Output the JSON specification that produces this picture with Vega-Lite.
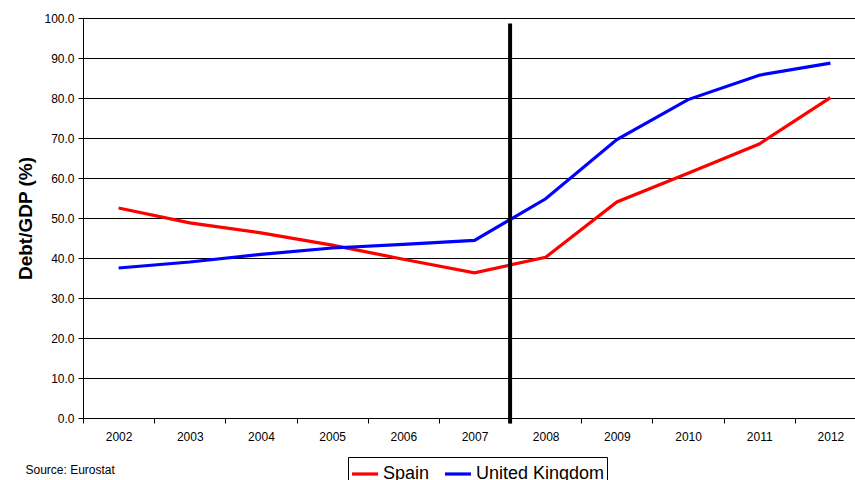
{
  "$schema": "https://vega.github.io/schema/vega-lite/v6.json",
  "width": 772,
  "height": 400,
  "autosize": {"type": "none"},
  "padding": {"left": 83, "top": 18, "right": 0, "bottom": 62},
  "background": "white",
  "config": {
    "view": {"stroke": null},
    "font": "Liberation Sans",
    "axis": {
      "labelColor": "black",
      "labelFont": "Liberation Sans",
      "labelFontSize": 12,
      "labelOverlap": false,
      "domainColor": "black",
      "tickColor": "black",
      "gridColor": "black",
      "gridOpacity": 1,
      "tickSize": 5
    },
    "axisY": {
      "titleFont": "Liberation Sans",
      "titleFontSize": 19,
      "titleFontWeight": "bold",
      "titleColor": "black",
      "titlePadding": 8,
      "labelPadding": 4
    }
  },
  "datasets": {
    "debt": [
      {"year": "2002", "country": "Spain", "debt": 52.5},
      {"year": "2003", "country": "Spain", "debt": 48.8},
      {"year": "2004", "country": "Spain", "debt": 46.3},
      {"year": "2005", "country": "Spain", "debt": 43.2},
      {"year": "2006", "country": "Spain", "debt": 39.7},
      {"year": "2007", "country": "Spain", "debt": 36.3},
      {"year": "2008", "country": "Spain", "debt": 40.2},
      {"year": "2009", "country": "Spain", "debt": 54.0},
      {"year": "2010", "country": "Spain", "debt": 61.2},
      {"year": "2011", "country": "Spain", "debt": 68.5},
      {"year": "2012", "country": "Spain", "debt": 80.1},
      {"year": "2002", "country": "United Kingdom", "debt": 37.5},
      {"year": "2003", "country": "United Kingdom", "debt": 39.0},
      {"year": "2004", "country": "United Kingdom", "debt": 40.9},
      {"year": "2005", "country": "United Kingdom", "debt": 42.5},
      {"year": "2006", "country": "United Kingdom", "debt": 43.4},
      {"year": "2007", "country": "United Kingdom", "debt": 44.4},
      {"year": "2008", "country": "United Kingdom", "debt": 54.8},
      {"year": "2009", "country": "United Kingdom", "debt": 69.6},
      {"year": "2010", "country": "United Kingdom", "debt": 79.6},
      {"year": "2011", "country": "United Kingdom", "debt": 85.7},
      {"year": "2012", "country": "United Kingdom", "debt": 88.7}
    ],
    "marker": [
      {"year": "2008", "top": 98.6, "bottom": -1.4}
    ]
  },
  "layer": [
    {
      "data": {"name": "debt"},
      "mark": {"type": "line", "strokeWidth": 3.2},
      "encoding": {
        "x": {
          "field": "year",
          "type": "ordinal",
          "scale": {"type": "band", "paddingInner": 0, "paddingOuter": 0, "range": [0, 783]},
          "axis": {
            "title": "Source: Eurostat",
            "titleFont": "Liberation Sans",
            "titleFontSize": 12,
            "titleFontWeight": "normal",
            "titleColor": "black",
            "titleAnchor": "start",
            "titleAlign": "left",
            "titleBaseline": "middle",
            "titleX": -58,
            "titleY": 51,
            "labelAngle": 0,
            "tickBand": "extent",
            "labelPadding": 8,
            "grid": false
          }
        },
        "y": {
          "field": "debt",
          "type": "quantitative",
          "scale": {"domain": [0, 100], "nice": false},
          "axis": {
            "title": "Debt/GDP (%)",
            "format": ".1f",
            "values": [0, 10, 20, 30, 40, 50, 60, 70, 80, 90, 100],
            "grid": true
          }
        },
        "color": {
          "field": "country",
          "type": "nominal",
          "scale": {"domain": ["Spain", "United Kingdom"], "range": ["#ff0000", "#0000ff"]},
          "legend": {
            "title": null,
            "orient": "none",
            "legendX": 265,
            "legendY": 439,
            "direction": "horizontal",
            "symbolType": "stroke",
            "symbolSize": 680,
            "symbolStrokeWidth": 3.2,
            "labelFont": "Liberation Sans",
            "labelFontSize": 18,
            "labelColor": "black",
            "labelOffset": 3,
            "columnPadding": 8,
            "strokeColor": "black",
            "padding": 2,
            "labelLimit": 300
          }
        }
      }
    },
    {
      "data": {"name": "marker"},
      "mark": {"type": "rule", "color": "black", "strokeWidth": 4},
      "encoding": {
        "x": {"field": "year", "type": "ordinal", "bandPosition": 0},
        "y": {
          "field": "top",
          "type": "quantitative",
          "axis": {
            "title": "Debt/GDP (%)",
            "format": ".1f",
            "values": [0, 10, 20, 30, 40, 50, 60, 70, 80, 90, 100],
            "grid": true
          }
        },
        "y2": {"field": "bottom"}
      }
    }
  ]
}
